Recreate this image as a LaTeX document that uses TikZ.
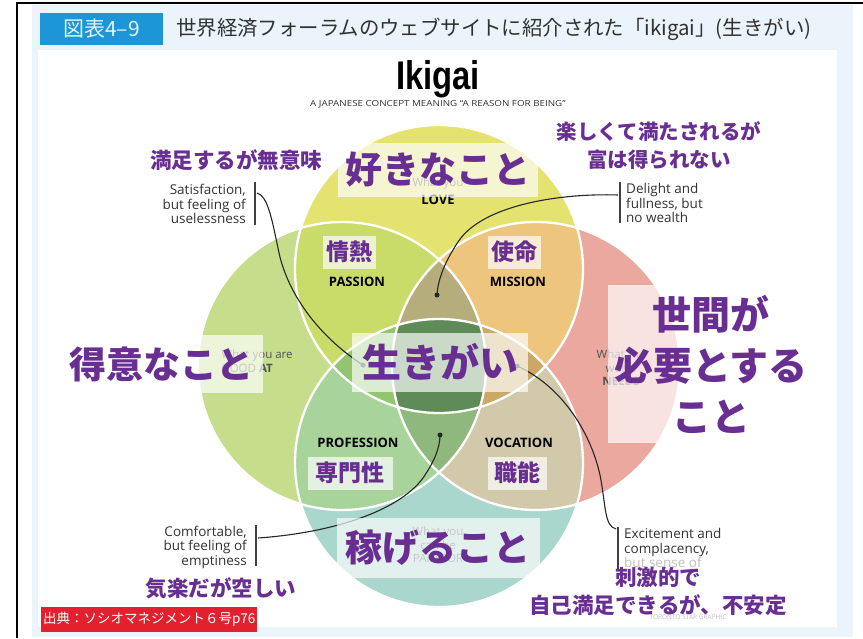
\documentclass[tikz,border=0pt]{standalone}
\usepackage{fontspec}
\setmainfont{Open Sans}
\newfontfamily\jp{Noto Sans CJK JP}
\newfontfamily\lib{Liberation Sans}
\definecolor{purp}{RGB}{104,46,146}
\definecolor{panel}{RGB}{235,243,251}
\definecolor{hdrblue}{RGB}{28,150,214}
\definecolor{srcred}{RGB}{226,32,46}
\definecolor{txtgrey}{RGB}{50,50,50}
\definecolor{colT}{RGB}{229,227,112}
\definecolor{colL}{RGB}{198,221,140}
\definecolor{colR}{RGB}{235,168,159}
\definecolor{colB}{RGB}{169,214,205}
\definecolor{colTL}{RGB}{201,220,106}
\definecolor{colTR}{RGB}{237,197,124}
\definecolor{colLB}{RGB}{168,212,156}
\definecolor{colRB}{RGB}{210,201,170}
\definecolor{colTLR}{RGB}{181,174,124}
\definecolor{colLRB}{RGB}{143,184,124}
\definecolor{colTLB}{RGB}{147,196,110}
\definecolor{colTRB}{RGB}{203,168,102}
\definecolor{colAll}{RGB}{95,139,88}
\tikzset{
  jbox/.style={fill=white, fill opacity=0.68, text opacity=1, inner sep=0pt, text=purp},
  biglbl/.style={jbox, font=\jp\bfseries\fontsize{37}{40}\selectfont},
  midlbl/.style={jbox, font=\jp\bfseries\fontsize{23}{26}\selectfont},
  annjp/.style={text=purp, align=center, inner sep=0pt, font=\jp\bfseries\fontsize{21.5}{28}\selectfont},
  anntxt/.style={text=txtgrey, inner sep=0pt, font=\fontsize{13.5}{14.5}\selectfont},
  caplbl/.style={text=black, inner sep=0pt, font=\bfseries\fontsize{13}{13}\selectfont},
  circtxt/.style={text=txtgrey!85, inner sep=0pt, align=center, font=\fontsize{11.5}{13.5}\selectfont},
  bar/.style={draw=black!75, line width=2},
  conn/.style={draw=black!85, line width=1.1},
  dotmark/.style={fill=black!85}
}
\begin{document}
\begin{tikzpicture}[x=1pt,y=-1pt]
\useasboundingbox (0,0) rectangle (863,638);
% background
\fill[white] (0,0) rectangle (863,638);
\fill[panel] (32,5) rectangle (853,637);
\fill[white] (38,50) rectangle (837,627);
\draw[black, line width=1.3] (17,638) -- (17,3) -- (863,3);
% header
\node[fill=hdrblue, minimum width=123, minimum height=32, inner sep=0pt, text=white!88!hdrblue, font=\jp\fontsize{21}{21}\selectfont] (fig) at (101.5,29) {図表4–9};
\node[anchor=west, inner sep=0pt, text=txtgrey, font=\jp\fontsize{20.4}{20.4}\selectfont] (title) at (176,29) {世界経済フォーラムのウェブサイトに紹介された「ikigai」(生きがい)};
% title
\node[inner sep=0pt] (ikigai) at (438,79) {\scalebox{0.82}[1]{\lib\bfseries\fontsize{40}{40}\selectfont Ikigai}};
\node[inner sep=0pt, text=txtgrey, font=\fontsize{9.8}{10}\selectfont] (sub) at (438,104) {\scalebox{1}[0.85]{A JAPANESE CONCEPT MEANING “A REASON FOR BEING”}};
% circles
\coordinate (cT) at (439,269);
\coordinate (cL) at (342,366);
\coordinate (cR) at (536,366);
\coordinate (cB) at (439,463);
\def\rr{144}
\fill[colT] (cT) circle[radius=\rr];
\fill[colL] (cL) circle[radius=\rr];
\fill[colR] (cR) circle[radius=\rr];
\fill[colB] (cB) circle[radius=\rr];
\begin{scope}
  \clip (cT) circle[radius=\rr];
  \fill[colTL] (cL) circle[radius=\rr];
  \fill[colTR] (cR) circle[radius=\rr];
\end{scope}
\begin{scope}
  \clip (cB) circle[radius=\rr];
  \fill[colLB] (cL) circle[radius=\rr];
  \fill[colRB] (cR) circle[radius=\rr];
\end{scope}
\begin{scope}
  \clip (cT) circle[radius=\rr];
  \clip (cL) circle[radius=\rr];
  \fill[colTLR] (cR) circle[radius=\rr];
  \fill[colTLB] (cB) circle[radius=\rr];
\end{scope}
\begin{scope}
  \clip (cT) circle[radius=\rr];
  \clip (cR) circle[radius=\rr];
  \fill[colTRB] (cB) circle[radius=\rr];
\end{scope}
\begin{scope}
  \clip (cL) circle[radius=\rr];
  \clip (cR) circle[radius=\rr];
  \fill[colLRB] (cB) circle[radius=\rr];
\end{scope}
\begin{scope}
  \clip (cT) circle[radius=\rr];
  \clip (cL) circle[radius=\rr];
  \clip (cR) circle[radius=\rr];
  \fill[colAll] (cB) circle[radius=\rr];
\end{scope}
\foreach \c in {cT,cL,cR,cB} \draw[white, line width=2.3] (\c) circle[radius=\rr];
% English circle labels
\node[circtxt] (wlove) at (438,184) {What you};
\node[caplbl] (love) at (438,200) {LOVE};
\node[circtxt, align=left] (wgood) at (257,361) {What you are\\GOOD \textbf{AT}};
\node[circtxt] (wneeds) at (621,368) {What the\\world\\\textbf{NEEDS}};
\node[circtxt] (wpaid) at (438,545) {What you\\can be\\PAID FOR};
\node[caplbl] (passion) at (357,282) {PASSION};
\node[caplbl] (mission) at (518,282) {MISSION};
\node[caplbl] (profession) at (358,443) {PROFESSION};
\node[caplbl] (vocation) at (519,443) {VOCATION};
% annotations
\node[annjp] (a1) at (236,160) {満足するが無意味};
\node[anntxt, align=right, anchor=east] (t1) at (246,204) {Satisfaction,\\but feeling of\\uselessness};
\coordinate (b1s) at (255,182); \coordinate (b1e) at (255,225);
\draw[bar] (b1s) -- (b1e);
\node[annjp, font=\jp\bfseries\fontsize{20.5}{28}\selectfont] (a2) at (659,146) {楽しくて満たされるが\\富は得られない};
\node[anntxt, align=left, anchor=west] (t2) at (626,203) {Delight and\\fullness, but\\no wealth};
\coordinate (b2s) at (620,182); \coordinate (b2e) at (620,223);
\draw[bar] (b2s) -- (b2e);
\node[anntxt, align=right, anchor=east] (t3) at (247,547) {Comfortable,\\but feeling of\\emptiness};
\coordinate (b3s) at (256,525); \coordinate (b3e) at (256,566);
\draw[bar] (b3s) -- (b3e);
\node[annjp] (a3) at (221,588) {気楽だが空しい};
\node[anntxt, align=left, anchor=west] (t4) at (624,548) {Excitement and\\complacency,\\\textcolor{black!25}{but sense of}};
\coordinate (b4s) at (618,527); \coordinate (b4e) at (618,570);
\draw[bar] (b4s) -- (b4e);
% connectors
\coordinate (b1) at (257,193);
\coordinate (b2) at (618,195);
\coordinate (b3) at (258,538);
\coordinate (b4) at (616,529);
\coordinate (d1) at (363,365);
\coordinate (d2) at (437,295);
\coordinate (d3) at (440,435);
\coordinate (d4) at (517,366);
\draw[conn] (b1) .. controls (268,196) and (272,220) .. (278,248) .. controls (286,292) and (318,336) .. (d1);
\draw[conn] (b2) .. controls (560,193) and (482,205) .. (458,242) .. controls (446,260) and (438,278) .. (d2);
\draw[conn] (b3) .. controls (330,533) and (398,512) .. (423,478) .. controls (434,462) and (440,448) .. (d3);
\draw[conn] (d4) .. controls (560,385) and (590,430) .. (600,475) .. controls (606,505) and (604,526) .. (b4);
\foreach \d in {d1,d2,d3,d4} \fill[dotmark] (\d) circle[radius=2.5];
% Japanese labels with boxes
\node[biglbl, minimum width=200, minimum height=54] (jlove) at (438,170) {好きなこと};
\node[biglbl, minimum width=203, minimum height=58] (jgood) at (161.5,364) {得意なこと};
\node[biglbl, minimum width=176, minimum height=59, font=\jp\bfseries\fontsize{39}{40}\selectfont] (jiki) at (440,362) {生きがい};
\node[biglbl, minimum width=206, minimum height=158, align=center, font=\jp\bfseries\fontsize{39}{51}\selectfont] (jneeds) at (711,364) {世間が\\必要とする\\こと};
\node[biglbl, minimum width=203, minimum height=60] (jpaid) at (438,548) {稼げること};
\node[midlbl, minimum width=53, minimum height=33] (jpassion) at (349,252) {情熱};
\node[midlbl, minimum width=53, minimum height=33] (jmission) at (514,252) {使命};
\node[midlbl, minimum width=85, minimum height=33] (jprof) at (350,473) {専門性};
\node[midlbl, minimum width=59, minimum height=33] (jvoc) at (517,473) {職能};
\node[annjp] (a4) at (658,591) {刺激的で\\自己満足できるが、不安定};
\node[inner sep=0pt, text=black!25, font=\fontsize{6.5}{7}\selectfont] (credit) at (688,617) {TORONTO STAR GRAPHIC};
% source label
\node[fill=srcred, text=white, anchor=west, minimum width=216, minimum height=25, inner sep=0pt, font=\jp\fontsize{13.5}{14}\selectfont] (src) at (41,619.5) {出典：ソシオマネジメント６号p76};
\end{tikzpicture}
\end{document}
